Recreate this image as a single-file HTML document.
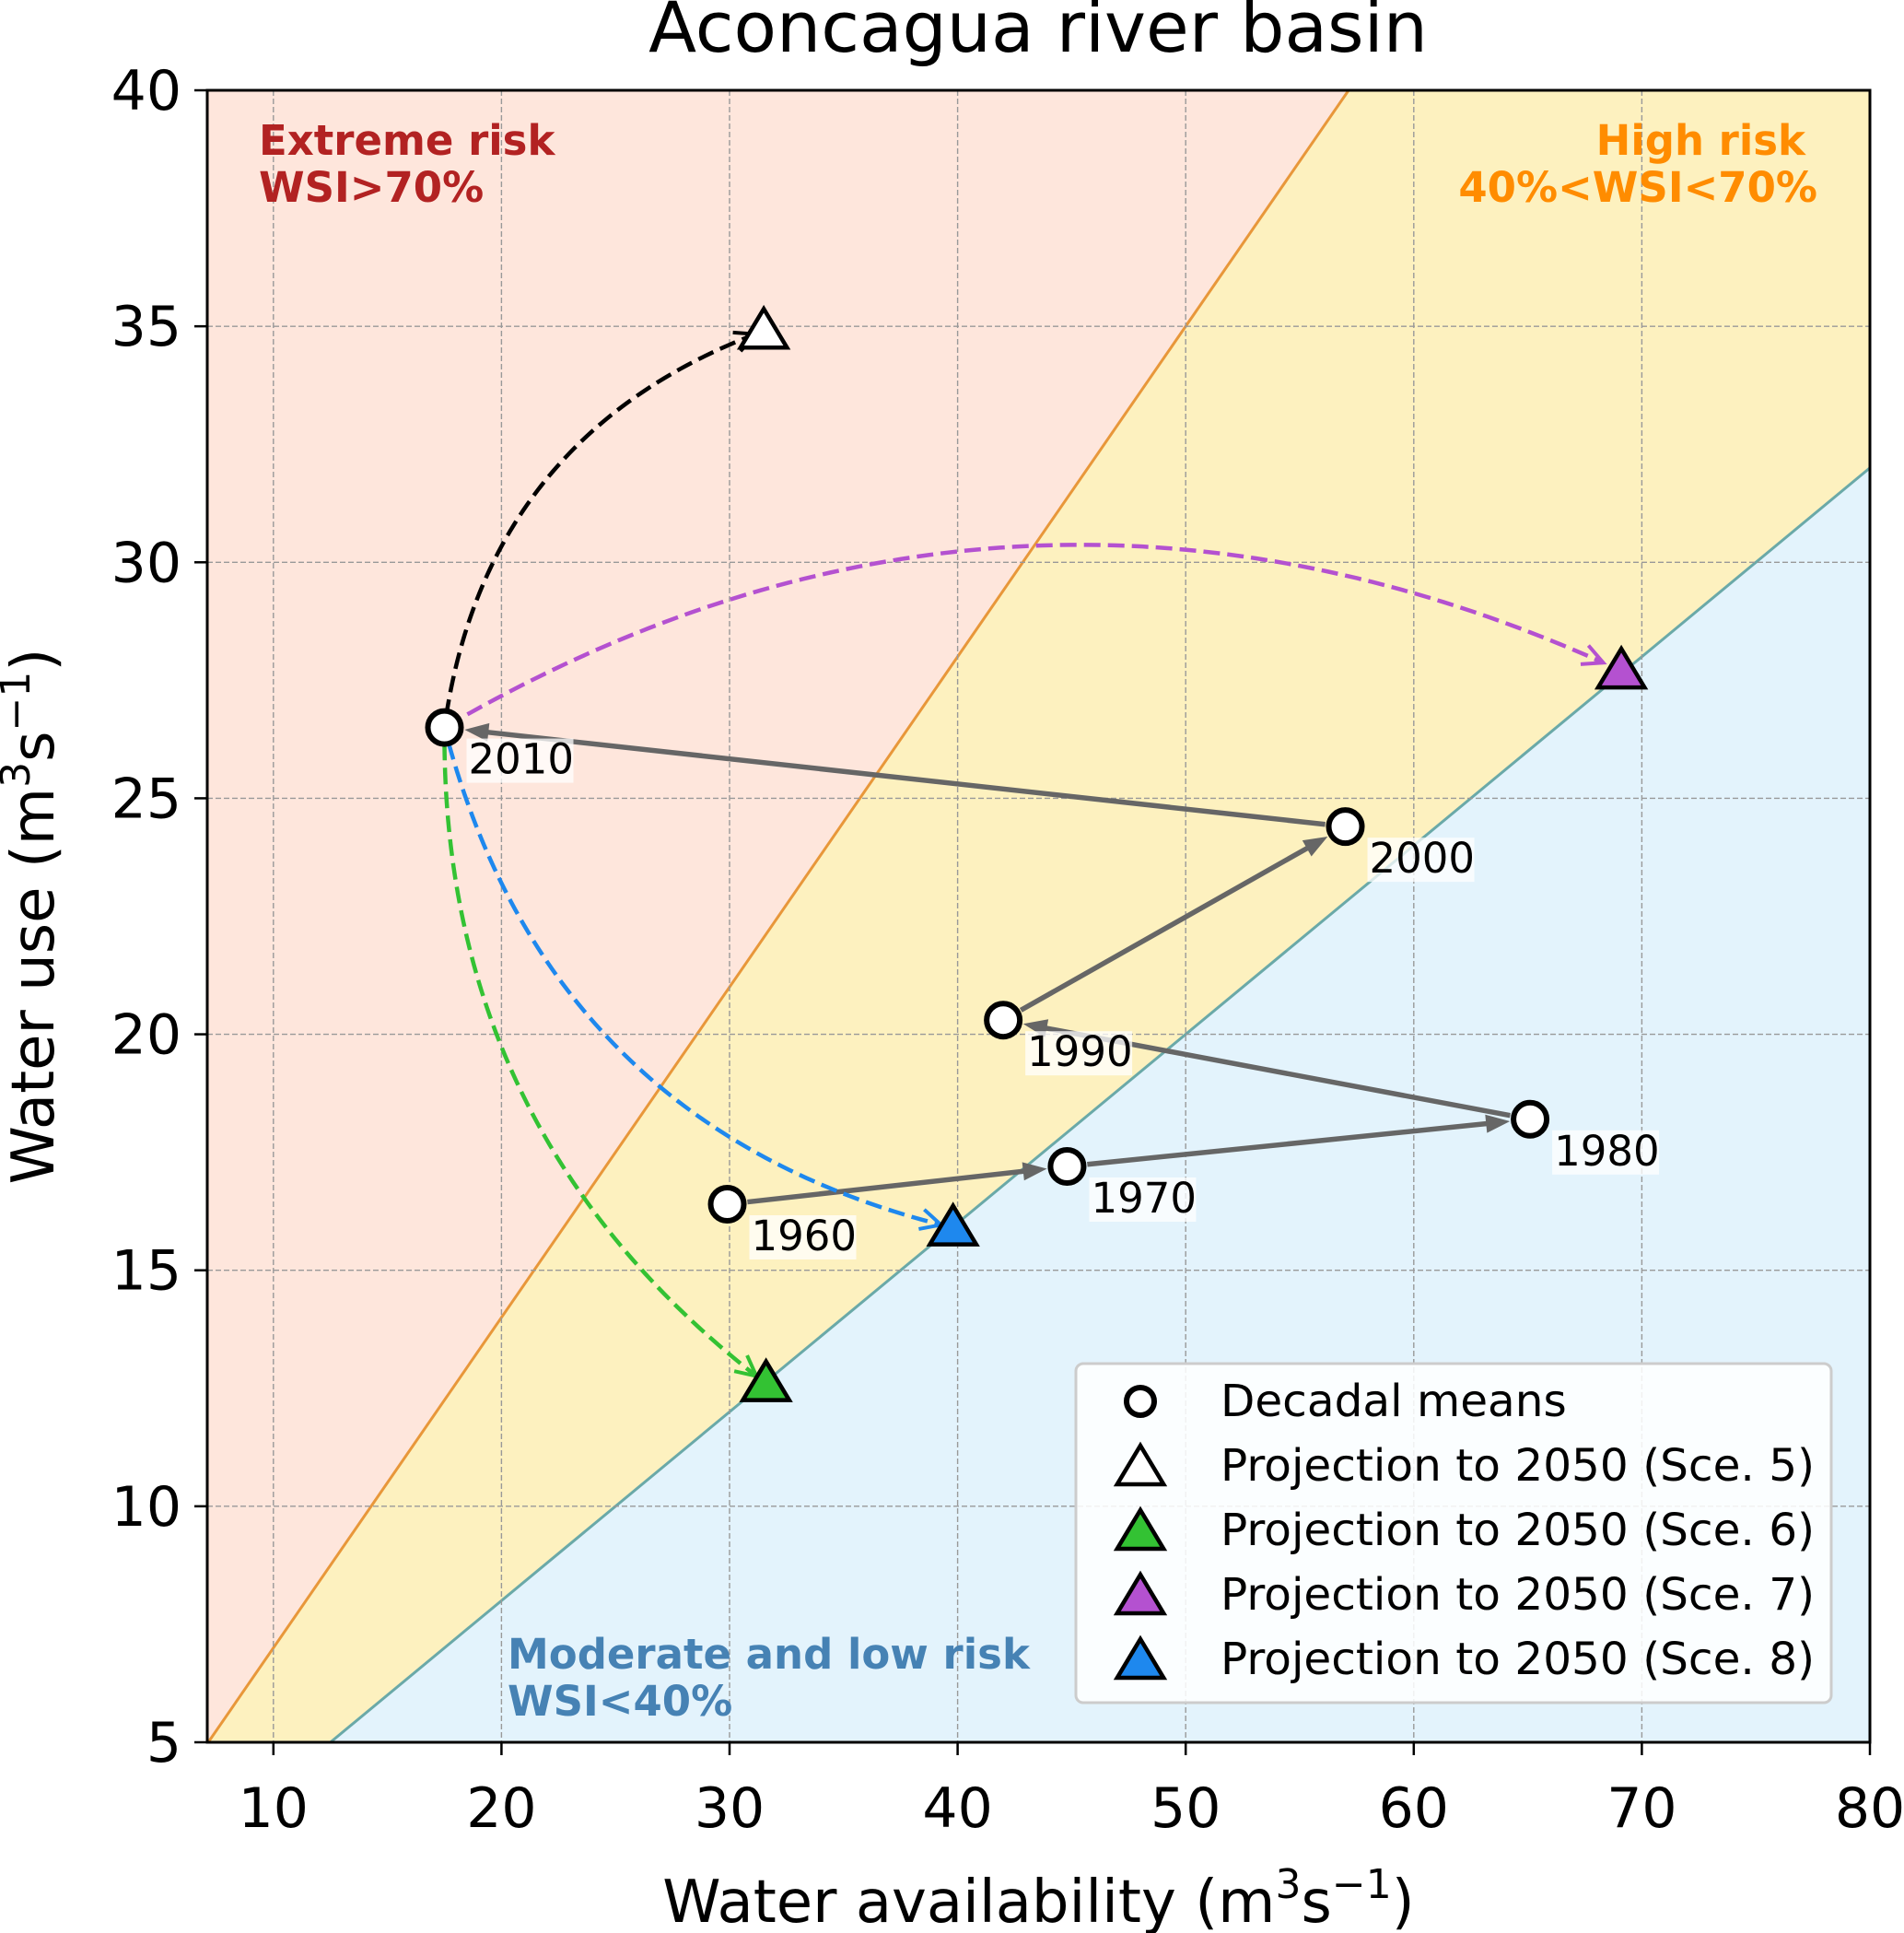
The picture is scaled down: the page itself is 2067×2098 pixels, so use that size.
<!DOCTYPE html>
<html><head><meta charset="utf-8"><style>
html,body{margin:0;padding:0;background:#fff;}
svg{display:block;font-family:"DejaVu Sans","Liberation Sans",sans-serif;}
</style></head><body>
<svg id="chart" width="2067" height="2098" viewBox="0 0 2067 2098">
<defs>
<clipPath id="clip"><rect x="225" y="98" width="1805" height="1793"/></clipPath>
</defs>
<text x="1127" y="56" font-size="76" text-anchor="middle">Aconcagua river basin</text>
<g id="zones" clip-path="url(#clip)"></g>
<g id="grid"></g>
<g id="marks"></g>
<g id="axes"></g>
</svg>
<script>
const xTicks=[10,20,30,40,50,60,70,80];
const yTicks=[5,10,15,20,25,30,35,40];
const years=["1960","1970","1980","1990","2000","2010"];
const availability=[29.9,44.8,65.1,42.0,57.0,17.5];
const waterUse=[16.4,17.2,18.2,20.3,24.4,26.5];
const scenarios=["Sce. 5","Sce. 6","Sce. 7","Sce. 8"];
const scenX=[31.5,31.6,69.1,39.8];
const scenY=[34.9,12.6,27.7,15.9];
const scenColors=["#ffffff","#33c233","#b451d0","#1e88ee"];
const curveColors=["#000000","#33c233","#b451d0","#1e88ee"];
const curveRad=[0.3,-0.25,0.26,-0.3];
const thresholds=[0.7,0.4];

const L=225,R=2030,T=98,B=1891,XMIN=7.1,XMAX=80,YMIN=5,YMAX=40;
const sx=v=>L+(v-XMIN)/(XMAX-XMIN)*(R-L);
const sy=v=>B-(v-YMIN)/(YMAX-YMIN)*(B-T);
const NS="http://www.w3.org/2000/svg";
function mk(tag,attrs,parent){const e=document.createElementNS(NS,tag);for(const k in attrs)e.setAttribute(k,attrs[k]);parent.appendChild(e);return e;}
const zones=document.getElementById('zones'),grid=document.getElementById('grid'),marks=document.getElementById('marks'),axes=document.getElementById('axes');

let z=mk('rect',{x:L,y:T,width:R-L,height:B-T,fill:'#fee6dc'},zones);

const hi=thresholds[0],lo=thresholds[1];
const poly=(pts)=>pts.map(p=>sx(p[0])+','+sy(p[1])).join(' ');
z=mk('polygon',{points:poly([[YMIN/hi,YMIN],[YMAX/hi,YMAX],[XMAX,YMAX],[XMAX,YMIN]]),fill:'#fdf1bf'},zones);

z=mk('polygon',{points:poly([[YMIN/lo,YMIN],[XMAX,XMAX*lo],[XMAX,YMIN]]),fill:'#e3f3fc'},zones);

z=mk('line',{x1:sx(YMIN/hi),y1:sy(YMIN),x2:sx(YMAX/hi),y2:sy(YMAX),stroke:'#e8973a','stroke-width':3},zones);

z=mk('line',{x1:sx(YMIN/lo),y1:sy(YMIN),x2:sx(XMAX),y2:sy(XMAX*lo),stroke:'#6aa9a8','stroke-width':3},zones);


xTicks.forEach(t=>{
 const g=mk('line',{x1:sx(t),x2:sx(t),y1:T,y2:B,stroke:'#999','stroke-width':1.4,'stroke-dasharray':'6,3'},grid);
 
 mk('line',{x1:sx(t),x2:sx(t),y1:B,y2:B+14,stroke:'#000','stroke-width':2.5},axes);
 const tl=mk('text',{x:sx(t),y:B+92,'font-size':60,'text-anchor':'middle'},axes);tl.textContent=t;
 
});
yTicks.forEach(t=>{
 const g=mk('line',{x1:L,x2:R,y1:sy(t),y2:sy(t),stroke:'#999','stroke-width':1.4,'stroke-dasharray':'6,3'},grid);
 
 mk('line',{x1:L-14,x2:L,y1:sy(t),y2:sy(t),stroke:'#000','stroke-width':2.5},axes);
 const tl=mk('text',{x:L-28,y:sy(t)+21,'font-size':60,'text-anchor':'end'},axes);tl.textContent=t;
 
});
let fr=mk('rect',{x:L,y:T,width:R-L,height:B-T,fill:'none',stroke:'#000','stroke-width':3},axes);

let xl=mk('text',{x:(L+R)/2,y:2086,'font-size':64,'text-anchor':'middle'},axes);
xl.innerHTML='Water availability (m<tspan font-size="44" dy="-26">3</tspan><tspan dy="26">s</tspan><tspan font-size="44" dy="-26">−1</tspan><tspan dy="26">)</tspan>';

let yl=mk('text',{x:0,y:0,'font-size':64,'text-anchor':'middle',transform:`translate(58,${(T+B)/2}) rotate(-90)`},axes);
yl.innerHTML='Water use (m<tspan font-size="44" dy="-26">3</tspan><tspan dy="26">s</tspan><tspan font-size="44" dy="-26">−1</tspan><tspan dy="26">)</tspan>';


function lbl(x,y,txt,col,anchor,name){const t=mk('text',{x:x,y:y,'font-size':45,'font-weight':'bold',fill:col,'text-anchor':anchor},marks);t.textContent=txt;}
lbl(281,168,'Extreme risk','#b22222','start','extreme-risk-label');
lbl(281,219,'WSI>70%','#b22222','start','extreme-risk-wsi');
lbl(1960,168,'High risk','#ff8c00','end','high-risk-label');
lbl(1973,219,'40%<WSI<70%','#ff8c00','end','high-risk-wsi');
lbl(551,1811,'Moderate and low risk','#4682b4','start','moderate-risk-label');
lbl(551,1862,'WSI<40%','#4682b4','start','moderate-risk-wsi');

function arrowHead(x,y,ang,col,filled,parent){
 const len=filled?26:22,w=filled?10:11;
 const bx=x-len*Math.cos(ang),by=y-len*Math.sin(ang);
 const p1=[bx+w*Math.sin(ang),by-w*Math.cos(ang)],p2=[bx-w*Math.sin(ang),by+w*Math.cos(ang)];
 if(filled)return mk('polygon',{points:`${x},${y} ${p1} ${p2}`,fill:col},parent);
 return mk('polyline',{points:`${p1} ${x},${y} ${p2}`,fill:'none',stroke:col,'stroke-width':4},parent);
}
for(let i=0;i<years.length-1;i++){
 const x1=sx(availability[i]),y1=sy(waterUse[i]),x2=sx(availability[i+1]),y2=sy(waterUse[i+1]);
 const a=Math.atan2(y2-y1,x2-x1),s=22;
 const ax=x1+s*Math.cos(a),ay=y1+s*Math.sin(a),bx=x2-s*Math.cos(a),by=y2-s*Math.sin(a);
 const ln=mk('line',{x1:ax,y1:ay,x2:bx-20*Math.cos(a),y2:by-20*Math.sin(a),stroke:'#666','stroke-width':5.5},marks);
 
 const h=arrowHead(bx,by,a,'#666',true,marks);
 
}
const ox=sx(availability[5]),oy=sy(waterUse[5]);
scenX.forEach((v,i)=>{
 const ex=sx(v),ey=sy(scenY[i]);
 const dx=ex-ox,dy=ey-oy,r=curveRad[i];
 const cx=(ox+ex)/2+r*dy,cy=(oy+ey)/2-r*dx;
 const q=(t)=>[(1-t)*(1-t)*ox+2*(1-t)*t*cx+t*t*ex,(1-t)*(1-t)*oy+2*(1-t)*t*cy+t*t*ey];
 const pts=[];for(let k=0;k<=80;k++){const t=0.02+0.965*k/80;pts.push(q(t));}
 const last=pts[pts.length-1],prev=q(0.93);
 const p=mk('polyline',{points:pts.map(p=>p.join(',')).join(' '),fill:'none',stroke:curveColors[i],'stroke-width':4.5,'stroke-dasharray':'18,8'},marks);
 
 const h=arrowHead(last[0],last[1],Math.atan2(last[1]-prev[1],last[0]-prev[0]),curveColors[i],false,marks);
 
});
availability.forEach((v,i)=>{
 const c=mk('circle',{cx:sx(v),cy:sy(waterUse[i]),r:18,fill:'#fff',stroke:'#000','stroke-width':6},marks);
 
 const bg=mk('rect',{x:sx(v)+24,y:sy(waterUse[i])+12,width:116,height:48,fill:'#fff','fill-opacity':0.75},marks);
 
 const t=mk('text',{x:sx(v)+26,y:sy(waterUse[i])+50,'font-size':45},marks);t.textContent=years[i];
 
});
function tri(x,y,col,parent){const s=24;return mk('polygon',{points:`${x},${y-s} ${x-s*1.05},${y+s*0.75} ${x+s*1.05},${y+s*0.75}`,fill:col,stroke:'#000','stroke-width':4.5,'stroke-linejoin':'miter'},parent);}
scenX.forEach((v,i)=>{
 const t=tri(sx(v),sy(scenY[i]),scenColors[i],marks);
 
});
const lg=mk('g',{},marks);
mk('rect',{x:1168,y:1480,width:820,height:368,rx:8,fill:'#fff','fill-opacity':0.85,stroke:'#ccc','stroke-width':3},lg);
let e=mk('circle',{cx:1238,cy:1521,r:15,fill:'#fff',stroke:'#000','stroke-width':6},lg);

let lt=mk('text',{x:1325,y:1537,'font-size':48.5},lg);lt.textContent='Decadal means';

scenarios.forEach((s,i)=>{
 const y=1521+70*(i+1);
 const m=tri(1238,y+2,scenColors[i],lg);
 
 const t=mk('text',{x:1325,y:y+16,'font-size':48.5},lg);t.textContent='Projection to 2050 ('+s+')';
 
});
</script>
</body></html>
